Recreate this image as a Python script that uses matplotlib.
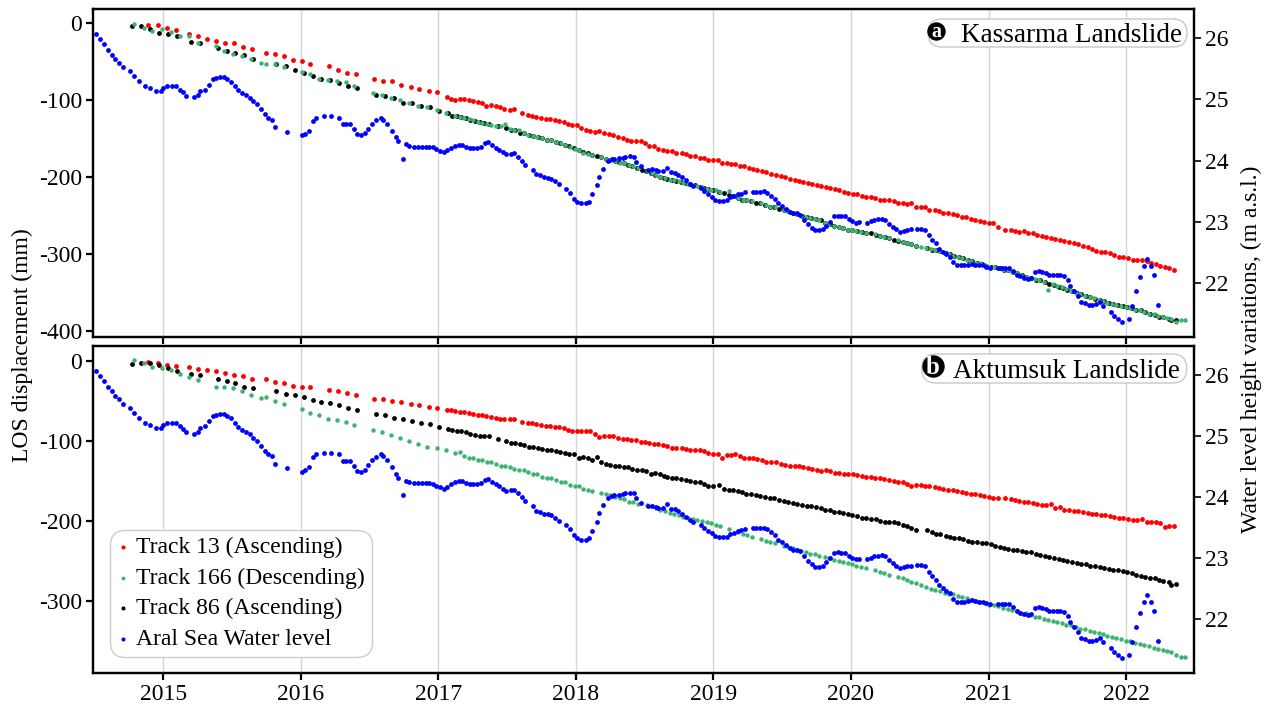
import matplotlib
matplotlib.use("Agg")
import matplotlib.pyplot as plt
from matplotlib.patches import FancyBboxPatch

# ---------------- data ----------------
YEARS = [2015, 2016, 2017, 2018, 2019, 2020, 2021, 2022]
LOS_TICKS_A = [0, -100, -200, -300, -400]
LOS_TICKS_B = [0, -100, -200, -300]
WL_TICKS = [22, 23, 24, 25, 26]

# Track 13 (Ascending) acquisition dates (decimal years)
T13_DATES = [
    2014.89, 2014.96, 2015.025, 2015.09, 2015.19, 2015.255, 2015.32, 2015.385, 2015.45, 2015.515,
    2015.58, 2015.645, 2015.745, 2015.81, 2015.875, 2015.94, 2016.01, 2016.07, 2016.205, 2016.27,
    2016.335, 2016.40, 2016.535, 2016.60, 2016.665, 2016.73, 2016.80, 2016.86, 2016.93, 2016.99,
    2017.06, 2017.09, 2017.12, 2017.16, 2017.19, 2017.22, 2017.25, 2017.29, 2017.32, 2017.35,
    2017.385, 2017.42, 2017.45, 2017.48, 2017.52, 2017.55, 2017.61, 2017.65, 2017.68, 2017.71,
    2017.745, 2017.78, 2017.81, 2017.845, 2017.88, 2017.91, 2017.94, 2017.975, 2018.01, 2018.04,
    2018.075, 2018.105, 2018.14, 2018.17, 2018.205, 2018.24, 2018.27, 2018.305, 2018.34, 2018.37,
    2018.40, 2018.435, 2018.47, 2018.50, 2018.535, 2018.565, 2018.60, 2018.63, 2018.665, 2018.70,
    2018.73, 2018.77, 2018.80, 2018.83, 2018.865, 2018.90, 2018.93, 2018.96, 2019.00, 2019.03,
    2019.065, 2019.095, 2019.13, 2019.16, 2019.19, 2019.225, 2019.26, 2019.29, 2019.32, 2019.355,
    2019.385, 2019.42, 2019.455, 2019.49, 2019.52, 2019.555, 2019.59, 2019.62, 2019.65, 2019.685,
    2019.72, 2019.75, 2019.78, 2019.815, 2019.85, 2019.885, 2019.915, 2019.95, 2019.98, 2020.015,
    2020.045, 2020.08, 2020.11, 2020.145, 2020.175, 2020.21, 2020.24, 2020.275, 2020.31, 2020.34,
    2020.375, 2020.41, 2020.44, 2020.475, 2020.51, 2020.54, 2020.57, 2020.61, 2020.64, 2020.67,
    2020.705, 2020.74, 2020.77, 2020.805, 2020.835, 2020.87, 2020.90, 2020.935, 2020.965, 2021.00,
    2021.03, 2021.07, 2021.12, 2021.16, 2021.19, 2021.22, 2021.255, 2021.29, 2021.32, 2021.355,
    2021.39, 2021.42, 2021.455, 2021.485, 2021.52, 2021.55, 2021.585, 2021.62, 2021.65, 2021.685,
    2021.72, 2021.75, 2021.78, 2021.815, 2021.85, 2021.88, 2021.915, 2021.95, 2021.98, 2022.015,
    2022.05, 2022.08, 2022.115, 2022.15, 2022.18, 2022.215, 2022.245, 2022.28, 2022.315, 2022.35]

T13_KASSARMA = [
    -2, -2, -6, -9, -14, -17, -20, -23, -26, -26,
    -31, -33, -38, -40, -43, -48, -49, -53, -56, -61,
    -64, -66, -72, -75, -75, -80, -83, -85, -88, -89,
    -96, -98, -99, -98, -98, -100, -101, -102, -104, -107,
    -106, -108, -109, -111, -112, -111, -117, -119, -121, -122,
    -123, -124, -124, -126, -127, -128, -131, -132, -132, -136,
    -138, -140, -141, -140, -142, -144, -145, -148, -149, -151,
    -153, -153, -153, -156, -160, -160, -163, -164, -166, -166,
    -168, -169, -170, -172, -173, -175, -175, -177, -177, -177,
    -181, -182, -183, -183, -185, -186, -188, -189, -190, -192,
    -193, -196, -197, -198, -200, -202, -203, -205, -206, -207,
    -209, -210, -211, -213, -214, -215, -216, -219, -220, -222,
    -222, -224, -225, -225, -227, -229, -230, -230, -231, -234,
    -233, -235, -233, -238, -239, -239, -242, -243, -244, -246,
    -246, -248, -249, -251, -252, -254, -255, -257, -258, -259,
    -260, -265, -268, -269, -270, -271, -270, -272, -273, -275,
    -276, -277, -279, -280, -281, -283, -284, -286, -287, -289,
    -291, -293, -296, -297, -297, -299, -301, -303, -304, -305,
    -307, -307, -308, -309, -311, -313, -315, -317, -318, -320]

T13_AKTUMSUK = [
    -1, -3, -5, -6, -8, -10, -11, -13, -15, -18,
    -19, -22, -23, -26, -28, -31, -33, -33, -36, -37,
    -40, -42, -48, -48, -50, -51, -54, -55, -58, -59,
    -61, -61, -62, -64, -64, -65, -66, -67, -68, -69,
    -70, -71, -72, -73, -73, -73, -76, -77, -78, -79,
    -80, -81, -81, -82, -83, -84, -86, -87, -87, -87,
    -87, -88, -91, -95, -94, -94, -94, -96, -97, -97,
    -99, -99, -101, -101, -102, -104, -104, -105, -106, -109,
    -109, -109, -110, -111, -111, -112, -113, -115, -117, -116,
    -122, -118, -118, -117, -119, -121, -122, -122, -123, -124,
    -126, -127, -126, -129, -130, -132, -132, -132, -133, -134,
    -135, -136, -138, -137, -138, -140, -140, -141, -142, -142,
    -143, -144, -145, -145, -146, -147, -148, -149, -150, -151,
    -152, -154, -157, -155, -155, -157, -157, -158, -159, -160,
    -162, -162, -163, -164, -165, -166, -167, -168, -169, -170,
    -171, -172, -172, -173, -174, -175, -176, -177, -178, -179,
    -180, -180, -179, -184, -183, -186, -187, -188, -188, -189,
    -190, -191, -192, -193, -193, -194, -195, -196, -197, -198,
    -199, -199, -198, -201, -202, -202, -203, -208, -206, -207]

# Track 166 (Descending)
T166_DATES = [
    2014.79, 2014.86, 2014.92, 2014.99, 2015.055, 2015.12, 2015.185, 2015.25, 2015.38, 2015.445,
    2015.51, 2015.575, 2015.64, 2015.71, 2015.745, 2015.81, 2015.875, 2016.005, 2016.07, 2016.135,
    2016.20, 2016.265, 2016.33, 2016.39, 2016.525, 2016.59, 2016.655, 2016.72, 2016.785, 2016.85,
    2016.92, 2016.99, 2017.055, 2017.12, 2017.155, 2017.19, 2017.22, 2017.255, 2017.29, 2017.32,
    2017.355, 2017.385, 2017.42, 2017.455, 2017.485, 2017.52, 2017.55, 2017.585, 2017.62, 2017.655,
    2017.69, 2017.72, 2017.755, 2017.79, 2017.82, 2017.855, 2017.89, 2017.92, 2017.955, 2017.99,
    2018.02, 2018.055, 2018.085, 2018.12, 2018.185, 2018.22, 2018.25, 2018.285, 2018.32, 2018.35,
    2018.385, 2018.415, 2018.45, 2018.515, 2018.55, 2018.585, 2018.615, 2018.65, 2018.685, 2018.715,
    2018.75, 2018.78, 2018.815, 2018.85, 2018.88, 2018.915, 2018.95, 2018.98, 2019.015, 2019.05,
    2019.115, 2019.18, 2019.215, 2019.245, 2019.28, 2019.345, 2019.38, 2019.41, 2019.445, 2019.51,
    2019.545, 2019.58, 2019.61, 2019.64, 2019.675, 2019.705, 2019.74, 2019.77, 2019.81, 2019.84,
    2019.875, 2019.91, 2019.94, 2019.975, 2020.01, 2020.04, 2020.075, 2020.11, 2020.175, 2020.21,
    2020.24, 2020.275, 2020.34, 2020.375, 2020.405, 2020.44, 2020.475, 2020.51, 2020.545, 2020.58,
    2020.61, 2020.645, 2020.68, 2020.71, 2020.745, 2020.78, 2020.81, 2020.845, 2020.875, 2020.91,
    2020.94, 2020.975, 2021.005, 2021.04, 2021.07, 2021.105, 2021.14, 2021.17, 2021.205, 2021.235,
    2021.27, 2021.305, 2021.335, 2021.37, 2021.40, 2021.435, 2021.47, 2021.50, 2021.535, 2021.565,
    2021.60, 2021.635, 2021.665, 2021.70, 2021.735, 2021.765, 2021.80, 2021.83, 2021.865, 2021.90,
    2021.93, 2021.965, 2022.00, 2022.03, 2022.065, 2022.10, 2022.13, 2022.165, 2022.20, 2022.23,
    2022.265, 2022.30, 2022.33, 2022.365, 2022.40, 2022.43]

T166_KASSARMA = [
    -0.5, -6, -10, -8, -11, -17, -16, -26, -29, -36,
    -40, -43, -46, -51, -53, -53, -57, -63, -66, -72,
    -74, -75, -76, -81, -90, -93, -97, -100, -103, -107,
    -109, -113, -116, -121, -122, -123, -124, -126, -128, -129,
    -131, -132, -134, -134, -131, -137, -139, -138, -143, -145,
    -147, -148, -149, -151, -152, -154, -156, -158, -161, -163,
    -165, -168, -170, -171, -174, -176, -177, -179, -181, -182,
    -184, -186, -188, -192, -195, -197, -199, -201, -203, -204,
    -205, -207, -209, -210, -211, -213, -215, -216, -217, -219,
    -218, -227, -229, -230, -231, -234, -236, -238, -239, -243,
    -244, -246, -248, -250, -251, -253, -254, -256, -259, -261,
    -263, -265, -266, -268, -269, -270, -271, -272, -274, -276,
    -278, -279, -282, -284, -285, -287, -289, -290, -292, -293,
    -295, -296, -298, -300, -302, -304, -305, -307, -309, -311,
    -312, -314, -316, -317, -318, -320, -321, -323, -325, -327,
    -329, -331, -332, -334, -336, -346, -339, -341, -343, -345,
    -348, -350, -352, -354, -356, -357, -359, -361, -363, -364,
    -366, -367, -369, -370, -372, -373, -375, -378, -378, -380,
    -381, -383, -384, -388, -385, -386]

T166_AKTUMSUK = [
    1, -3, -7, -9, -11, -16, -20, -24, -32, -33,
    -34, -38, -43, -46, -45, -50, -54, -60, -65, -68,
    -72, -74, -76, -80, -86, -89, -93, -96, -100, -104,
    -107, -109, -111, -115, -114, -119, -121, -122, -124, -124,
    -126, -126, -129, -131, -132, -133, -135, -136, -137, -139,
    -141, -142, -145, -146, -147, -149, -151, -152, -155, -156,
    -157, -160, -161, -163, -165, -167, -168, -170, -172, -173,
    -176, -177, -179, -180, -182, -184, -186, -188, -190, -191,
    -193, -195, -196, -198, -199, -200, -202, -203, -205, -206,
    -210, -214, -216, -218, -220, -223, -225, -226, -228, -231,
    -233, -234, -236, -238, -239, -241, -242, -244, -245, -246,
    -249, -250, -251, -253, -254, -256, -258, -259, -262, -264,
    -265, -268, -270, -272, -274, -276, -278, -280, -283, -285,
    -287, -288, -290, -291, -292, -294, -295, -297, -299, -300,
    -302, -303, -305, -306, -307, -309, -310, -312, -313, -315,
    -316, -318, -320, -321, -323, -324, -326, -327, -328, -330,
    -331, -333, -335, -336, -338, -339, -340, -342, -344, -345,
    -347, -348, -350, -351, -353, -354, -356, -357, -359, -360,
    -362, -363, -364, -368, -370, -371]

# Track 86 (Ascending)
T86_DATES = [
    2014.775, 2014.84, 2014.905, 2014.97, 2015.035, 2015.10, 2015.20, 2015.265, 2015.40, 2015.46,
    2015.525, 2015.59, 2015.655, 2015.82, 2015.89, 2015.955, 2016.02, 2016.085, 2016.15, 2016.215,
    2016.28, 2016.345, 2016.41, 2016.545, 2016.61, 2016.675, 2016.74, 2016.81, 2016.875, 2016.94,
    2017.005, 2017.07, 2017.10, 2017.135, 2017.165, 2017.20, 2017.23, 2017.265, 2017.30, 2017.33,
    2017.365, 2017.43, 2017.495, 2017.53, 2017.56, 2017.595, 2017.625, 2017.66, 2017.69, 2017.725,
    2017.755, 2017.79, 2017.82, 2017.855, 2017.885, 2017.92, 2017.95, 2017.985, 2018.02, 2018.05,
    2018.085, 2018.12, 2018.15, 2018.185, 2018.22, 2018.25, 2018.285, 2018.315, 2018.35, 2018.38,
    2018.41, 2018.445, 2018.48, 2018.51, 2018.545, 2018.575, 2018.61, 2018.64, 2018.665, 2018.70,
    2018.73, 2018.765, 2018.80, 2018.83, 2018.865, 2018.90, 2018.93, 2018.96, 2019.00, 2019.04,
    2019.08, 2019.11, 2019.14, 2019.175, 2019.21, 2019.24, 2019.275, 2019.31, 2019.34, 2019.375,
    2019.41, 2019.44, 2019.475, 2019.51, 2019.54, 2019.58, 2019.61, 2019.645, 2019.68, 2019.71,
    2019.745, 2019.78, 2019.81, 2019.845, 2019.875, 2019.91, 2019.945, 2019.975, 2020.01, 2020.045,
    2020.08, 2020.11, 2020.145, 2020.18, 2020.21, 2020.245, 2020.28, 2020.31, 2020.345, 2020.375,
    2020.41, 2020.44, 2020.475, 2020.55, 2020.59, 2020.62, 2020.65, 2020.69, 2020.72, 2020.75,
    2020.785, 2020.815, 2020.85, 2020.88, 2020.915, 2020.95, 2020.98, 2021.015, 2021.05, 2021.08,
    2021.11, 2021.145, 2021.175, 2021.21, 2021.245, 2021.275, 2021.31, 2021.345, 2021.375, 2021.41,
    2021.44, 2021.475, 2021.51, 2021.54, 2021.57, 2021.61, 2021.64, 2021.675, 2021.71, 2021.74,
    2021.775, 2021.81, 2021.84, 2021.875, 2021.905, 2021.94, 2021.975, 2022.01, 2022.04, 2022.075,
    2022.11, 2022.14, 2022.175, 2022.21, 2022.24, 2022.27, 2022.31, 2022.33, 2022.36]

T86_KASSARMA = [
    -3.5, -3.5, -7, -12, -14, -16, -24, -25, -32, -36,
    -39, -41, -46, -53, -56, -60, -64, -68, -72, -73,
    -77, -81, -84, -93, -95, -97, -104, -103, -107, -109,
    -114, -117, -120, -121, -122, -123, -125, -127, -128, -129,
    -131, -134, -136, -138, -139, -142, -143, -145, -147, -148,
    -149, -151, -152, -154, -156, -158, -160, -162, -165, -167,
    -169, -171, -172, -174, -176, -177, -179, -180, -182, -184,
    -186, -188, -190, -192, -195, -197, -199, -201, -202, -204,
    -205, -206, -208, -209, -210, -212, -214, -215, -217, -219,
    -221, -223, -224, -227, -229, -230, -231, -233, -234, -236,
    -238, -239, -241, -243, -244, -246, -248, -250, -251, -253,
    -254, -256, -259, -261, -263, -265, -266, -268, -269, -270,
    -271, -272, -273, -275, -276, -278, -279, -281, -283, -284,
    -285, -287, -289, -292, -294, -295, -296, -298, -300, -302,
    -304, -305, -307, -309, -311, -313, -315, -316, -317, -318,
    -320, -321, -323, -325, -327, -329, -331, -333, -334, -336,
    -338, -340, -342, -344, -346, -348, -350, -352, -354, -356,
    -358, -360, -361, -363, -364, -366, -367, -369, -370, -372,
    -373, -375, -377, -379, -381, -382, -384, -385, -385]

T86_AKTUMSUK = [
    -4, -3, -2, -5, -9, -12, -16, -18, -23, -25,
    -28, -33, -34, -38, -41, -43, -45, -49, -51, -53,
    -55, -59, -61, -66, -68, -71, -73, -75, -77, -79,
    -83, -85, -86, -87, -88, -89, -91, -93, -94, -94,
    -94, -97, -100, -102, -103, -104, -105, -107, -108, -109,
    -110, -111, -112, -113, -114, -115, -116, -117, -121, -120,
    -122, -124, -120, -127, -129, -130, -131, -132, -133, -133,
    -135, -136, -137, -138, -141, -140, -142, -144, -145, -146,
    -147, -148, -149, -150, -151, -152, -154, -156, -157, -155,
    -160, -161, -162, -163, -164, -166, -167, -168, -169, -170,
    -171, -172, -174, -175, -177, -178, -179, -180, -181, -182,
    -183, -184, -186, -187, -189, -189, -190, -191, -193, -194,
    -196, -197, -198, -198, -200, -201, -201, -202, -203, -205,
    -207, -209, -211, -212, -214, -216, -217, -219, -220, -221,
    -222, -223, -225, -226, -226, -228, -228, -229, -231, -233,
    -234, -235, -236, -237, -238, -239, -239, -241, -243, -244,
    -245, -246, -248, -249, -250, -251, -253, -254, -254, -256,
    -256, -258, -259, -260, -261, -262, -263, -264, -265, -268,
    -269, -270, -271, -272, -274, -275, -276, -280, -279]

# Aral Sea water level (m a.s.l.)
WL_DATES = [
    2014.51, 2014.54, 2014.57, 2014.60, 2014.625, 2014.65, 2014.68, 2014.705, 2014.76, 2014.79,
    2014.82, 2014.87, 2014.90, 2014.95, 2014.98, 2015.00, 2015.03, 2015.06, 2015.09, 2015.12,
    2015.14, 2015.165, 2015.22, 2015.25, 2015.27, 2015.30, 2015.33, 2015.36, 2015.38, 2015.41,
    2015.44, 2015.46, 2015.49, 2015.52, 2015.54, 2015.57, 2015.60, 2015.63, 2015.65, 2015.68,
    2015.71, 2015.74, 2015.76, 2015.79, 2015.81, 2015.90, 2016.005, 2016.03, 2016.06, 2016.09,
    2016.11, 2016.17, 2016.22, 2016.28, 2016.31, 2016.33, 2016.36, 2016.39, 2016.41, 2016.44,
    2016.47, 2016.49, 2016.52, 2016.55, 2016.58, 2016.60, 2016.63, 2016.66, 2016.69, 2016.71,
    2016.74, 2016.765, 2016.79, 2016.82, 2016.85, 2016.88, 2016.91, 2016.93, 2016.96, 2016.985,
    2017.01, 2017.04, 2017.065, 2017.09, 2017.12, 2017.15, 2017.175, 2017.20, 2017.23, 2017.255,
    2017.28, 2017.31, 2017.34, 2017.36, 2017.39, 2017.42, 2017.44, 2017.47, 2017.495, 2017.525,
    2017.55, 2017.58, 2017.605, 2017.63, 2017.69, 2017.71, 2017.74, 2017.77, 2017.80, 2017.82,
    2017.85, 2017.88, 2017.93, 2017.96, 2017.985, 2018.01, 2018.04, 2018.07, 2018.095, 2018.12,
    2018.15, 2018.17, 2018.20, 2018.23, 2018.26, 2018.28, 2018.31, 2018.34, 2018.36, 2018.39,
    2018.42, 2018.44, 2018.47, 2018.525, 2018.55, 2018.58, 2018.60, 2018.63, 2018.66, 2018.69,
    2018.72, 2018.745, 2018.77, 2018.80, 2018.83, 2018.85, 2018.91, 2018.93, 2018.96, 2018.99,
    2019.01, 2019.04, 2019.07, 2019.095, 2019.12, 2019.15, 2019.18, 2019.20, 2019.23, 2019.285,
    2019.31, 2019.34, 2019.365, 2019.39, 2019.42, 2019.445, 2019.47, 2019.50, 2019.53, 2019.555,
    2019.58, 2019.61, 2019.63, 2019.66, 2019.69, 2019.715, 2019.74, 2019.77, 2019.795, 2019.82,
    2019.85, 2019.875, 2019.905, 2019.93, 2019.96, 2019.985, 2020.01, 2020.035, 2020.06, 2020.12,
    2020.145, 2020.17, 2020.20, 2020.225, 2020.25, 2020.28, 2020.305, 2020.33, 2020.36, 2020.385,
    2020.41, 2020.44, 2020.48, 2020.51, 2020.54, 2020.565, 2020.59, 2020.62, 2020.64, 2020.67,
    2020.69, 2020.72, 2020.745, 2020.77, 2020.80, 2020.82, 2020.85, 2020.88, 2020.905, 2020.93,
    2020.96, 2020.985, 2021.01, 2021.07, 2021.10, 2021.12, 2021.15, 2021.18, 2021.205, 2021.23,
    2021.26, 2021.285, 2021.31, 2021.34, 2021.365, 2021.39, 2021.415, 2021.44, 2021.47, 2021.50,
    2021.52, 2021.55, 2021.58, 2021.595, 2021.62, 2021.65, 2021.675, 2021.70, 2021.73, 2021.755,
    2021.78, 2021.81, 2021.835, 2021.89, 2021.915, 2021.94, 2021.97, 2022.02, 2022.045, 2022.075,
    2022.10, 2022.13, 2022.15, 2022.18, 2022.205, 2022.23]

WL_LEVEL = [
    26.06, 25.98, 25.90, 25.81, 25.73, 25.66, 25.60, 25.53, 25.46, 25.38,
    25.30, 25.22, 25.18, 25.14, 25.14, 25.18, 25.22, 25.22, 25.21, 25.16,
    25.12, 25.06, 25.04, 25.07, 25.13, 25.16, 25.24, 25.33, 25.35, 25.36,
    25.36, 25.33, 25.29, 25.22, 25.15, 25.10, 25.07, 25.03, 24.97, 24.92,
    24.84, 24.76, 24.70, 24.67, 24.55, 24.47, 24.41, 24.44, 24.49, 24.65,
    24.70, 24.73, 24.73, 24.70, 24.59, 24.59, 24.59, 24.51, 24.43, 24.41,
    24.45, 24.52, 24.60, 24.66, 24.70, 24.67, 24.60, 24.49, 24.38, 24.32,
    24.03, 24.27, 24.24, 24.23, 24.23, 24.23, 24.23, 24.23, 24.22, 24.19,
    24.16, 24.14, 24.17, 24.21, 24.24, 24.26, 24.26, 24.23, 24.21, 24.21,
    24.21, 24.23, 24.28, 24.30, 24.25, 24.21, 24.18, 24.14, 24.10, 24.11,
    24.12, 24.06, 24.00, 23.93, 23.85, 23.78, 23.76, 23.73, 23.72, 23.70,
    23.66, 23.61, 23.54, 23.47, 23.38, 23.33, 23.30, 23.30, 23.33, 23.45,
    23.60, 23.74, 23.87, 23.99, 24.02, 24.03, 24.04, 24.05, 24.06, 24.07,
    24.06, 23.98, 23.91, 23.85, 23.86, 23.84, 23.83, 23.83, 23.88, 23.81,
    23.80, 23.77, 23.73, 23.68, 23.62, 23.59, 23.55, 23.50, 23.45, 23.41,
    23.36, 23.34, 23.34, 23.35, 23.40, 23.42, 23.45, 23.46, 23.48, 23.49,
    23.49, 23.49, 23.50, 23.47, 23.43, 23.38, 23.30, 23.26, 23.21, 23.16,
    23.14, 23.14, 23.11, 23.03, 22.96, 22.90, 22.86, 22.86, 22.88, 22.94,
    23.00, 23.09, 23.10, 23.09, 23.09, 23.04, 23.01, 22.98, 22.99, 22.98,
    23.01, 23.03, 23.04, 23.05, 23.03, 22.97, 22.92, 22.88, 22.84, 22.85,
    22.87, 22.88, 22.89, 22.89, 22.87, 22.78, 22.71, 22.65, 22.56, 22.51,
    22.47, 22.43, 22.34, 22.29, 22.29, 22.29, 22.30, 22.31, 22.30, 22.29,
    22.29, 22.26, 22.25, 22.25, 22.25, 22.25, 22.25, 22.20, 22.14, 22.11,
    22.09, 22.07, 22.09, 22.18, 22.20, 22.18, 22.16, 22.14, 22.13, 22.13,
    22.13, 22.12, 22.05, 21.95, 21.87, 21.79, 21.69, 21.67, 21.65, 21.64,
    21.66, 21.69, 21.63, 21.53, 21.46, 21.41, 21.36, 21.42, 21.62, 21.87,
    22.10, 22.28, 22.39, 22.28, 22.13, 21.64]

LABELS = ["Track 13 (Ascending)", "Track 166 (Descending)",
          "Track 86 (Ascending)", "Aral Sea Water level"]
COLORS = ["#ff0000", "#3cb371", "#000000", "#0000ff"]

# ---------------- style ----------------
plt.rcParams["font.family"] = ["Liberation Serif", "DejaVu Serif"]
plt.rcParams["axes.unicode_minus"] = False
plt.rcParams["font.size"] = 17

FIG_W, FIG_H = 1272, 709
fig = plt.figure(figsize=(FIG_W / 100, FIG_H / 100), dpi=100)

AX_L, AX_R = 93, 1194


def axes_rect(top, bottom):
    return [AX_L / FIG_W, 1 - bottom / FIG_H, (AX_R - AX_L) / FIG_W, (bottom - top) / FIG_H]


ax_a = fig.add_axes(axes_rect(9, 337))
ax_b = fig.add_axes(axes_rect(346, 673))
tw_a = ax_a.twinx()
tw_b = ax_b.twinx()

MS = 12


def draw_panel(ax, tw, d13, d166, d86, ylim, yticks):
    h1 = ax.scatter(T13_DATES, d13, s=MS, color=COLORS[0], linewidths=0, zorder=3)
    h3 = ax.scatter(T86_DATES, d86, s=MS, color=COLORS[2], linewidths=0, zorder=3)
    h2 = ax.scatter(T166_DATES, d166, s=MS * 0.85, color=COLORS[1], linewidths=0, zorder=4)
    h4 = tw.scatter(WL_DATES, WL_LEVEL, s=MS, color=COLORS[3], linewidths=0, zorder=3)
    ax.set_xlim(2014.489, 2022.494)
    ax.set_ylim(*ylim)
    ax.set_yticks(yticks)
    ax.set_yticklabels([str(v) for v in yticks])
    ax.set_xticks(YEARS)
    ax.set_xticklabels([str(y) for y in YEARS])
    ax.grid(axis="x", color="#d6d6d6", lw=1.0, zorder=0)
    ax.set_axisbelow(True)
    tw.set_ylim(21.12, 26.475)
    tw.set_yticks(WL_TICKS)
    tw.set_yticklabels([str(v) for v in WL_TICKS])
    for a in (ax, tw):
        for sp in a.spines.values():
            sp.set_linewidth(1.6)
    ax.tick_params(axis="both", direction="out", length=5, width=1.6, labelsize=17, pad=3)
    tw.tick_params(axis="y", direction="out", length=5, width=1.2, labelsize=17, pad=3)
    return [h1, h2, h3, h4]


draw_panel(ax_a, tw_a, T13_KASSARMA, T166_KASSARMA, T86_KASSARMA, (-407.5, 18.6), LOS_TICKS_A)
handles = draw_panel(ax_b, tw_b, T13_AKTUMSUK, T166_AKTUMSUK, T86_AKTUMSUK, (-390.5, 18.8), LOS_TICKS_B)
ax_a.tick_params(axis="x", labelbottom=False)


def panel_label(tw, ax_top, ax_bot, box, circ, circ_d, letter, text, text_x, baseline):
    hgt = ax_bot - ax_top
    wid = AX_R - AX_L
    fx = lambda px: (px - AX_L) / wid
    fy = lambda py: (ax_bot - py) / hgt
    x0, x1, y0, y1 = box
    rx = 0.5 * (y1 - y0) / wid
    aspect = (wid / hgt)
    patch = FancyBboxPatch((fx(x0), fy(y1)), fx(x1) - fx(x0), fy(y0) - fy(y1),
                           boxstyle="round,pad=0,rounding_size=%f" % rx,
                           mutation_aspect=aspect, transform=tw.transAxes,
                           fc="white", ec="#c8c8c8", lw=1.0, zorder=10, clip_on=False)
    tw.add_patch(patch)
    tw.plot([fx(circ[0])], [fy(circ[1])], "o", ms=circ_d * 0.72, color="black",
            transform=tw.transAxes, zorder=11, clip_on=False)
    tw.text(fx(circ[0]), fy(circ[1]) - 0.004, letter, color="white", fontsize=circ_d * 0.85,
            fontweight="bold", ha="center", va="center", transform=tw.transAxes, zorder=12)
    tw.text(fx(text_x), fy(baseline), text, fontsize=19.5, ha="left", va="baseline",
            transform=tw.transAxes, zorder=12)


panel_label(tw_a, 9, 337, (928, 1187, 19, 47), (936.3, 30.5), 17, "a",
            "Kassarma Landslide", 961, 42.3)
panel_label(tw_b, 346, 673, (921.7, 1186.7, 354, 383), (933, 366.5), 21, "b",
            "Aktumsuk Landslide", 953, 377.7)

leg = tw_b.legend(handles, LABELS, loc="lower left", bbox_to_anchor=(0.0154, 0.049),
                  borderaxespad=0, fontsize=17, frameon=True, fancybox=True,
                  edgecolor="#cccccc", framealpha=1, handlelength=0.5, handletextpad=0.3,
                  borderpad=0.3, labelspacing=0.38, scatterpoints=1, markerscale=0.85)
leg.get_frame().set_boxstyle("round,pad=0,rounding_size=0.65")
leg.set_zorder(20)

fig.text(22 / FIG_W, 1 - 345 / FIG_H, "LOS displacement (mm)", rotation=90,
         ha="center", va="center", fontsize=17)
fig.text(1251 / FIG_W, 1 - 349 / FIG_H, "Water level height variations, (m a.s.l.)",
         rotation=90, ha="center", va="center", fontsize=17)

fig.savefig("out.png", dpi=100)
